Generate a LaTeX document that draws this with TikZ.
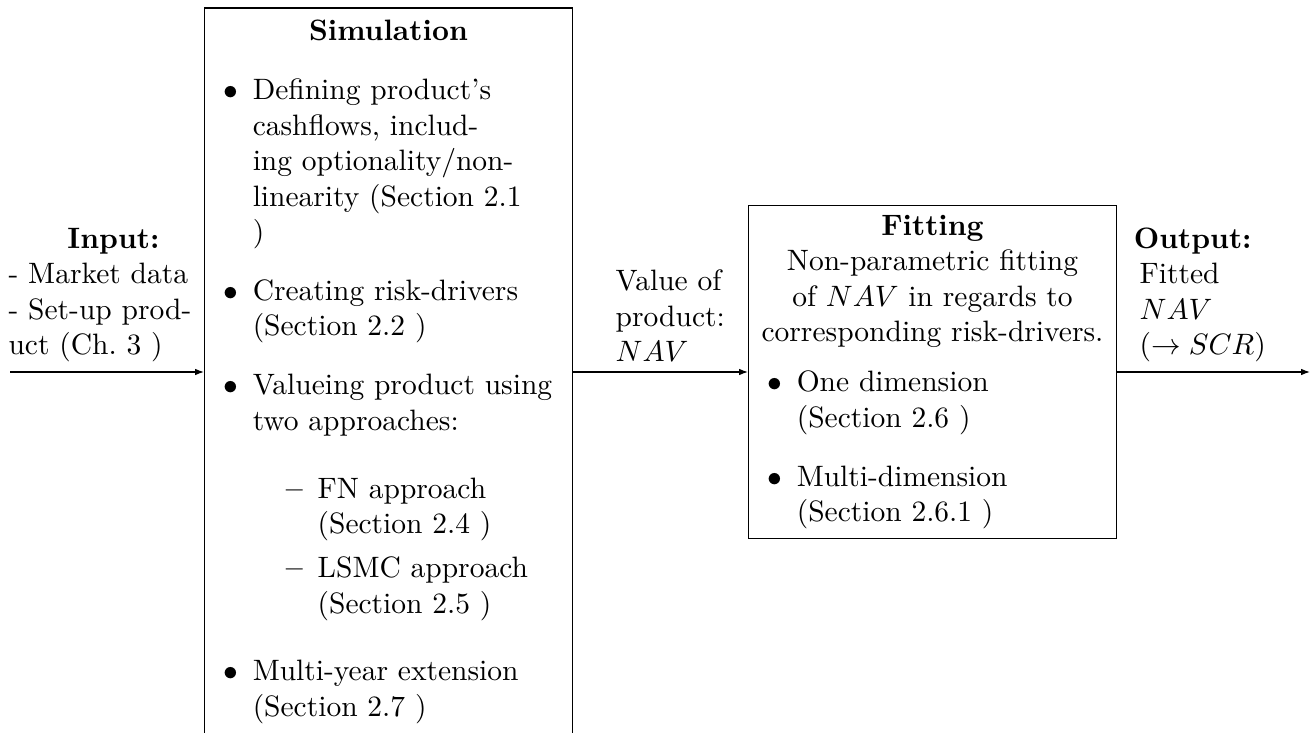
\documentclass[tikz,border=0pt]{standalone}
\usepackage{enumitem}
\usetikzlibrary{arrows.meta}

% list geometry used inside the two process boxes
\setlist[itemize,1]{label=$\bullet$,leftmargin=13pt,labelwidth=8pt,labelsep=5pt,labelindent=0pt,itemindent=0pt,
  topsep=8pt,partopsep=0pt,parsep=4pt,itemsep=4pt}
\setlist[itemize,2]{label=\textbf{\textendash},leftmargin=22pt,labelwidth=17pt,labelsep=5pt,labelindent=0pt,itemindent=0pt,
  topsep=7pt,partopsep=0pt,parsep=2pt,itemsep=1pt}

\tikzset{
  stage/.style={draw, line width=0.4pt, inner sep=3.33pt, anchor=west},
  sidelabel/.style={inner sep=0pt, anchor=south west},
  flow/.style={-{Latex[length=3pt,width=2.2pt]}, line width=0.4pt},
}

\begin{document}
\begin{tikzpicture}[x=1pt,y=1pt]
\useasboundingbox (0,0) rectangle (445.76,-248.47);

% ends of the main flow line
\coordinate (start) at (3.39,-126.1);
\coordinate (finish) at (444.07,-126.1);

% simulation stage
\node[stage, minimum height=246.8pt] (sim) at (69.15,-126.1) {\begin{minipage}{118pt}\raggedright
{\centering\textbf{Simulation}\par}
\begin{itemize}
\item Defining product's\newline cashflows, includ-\newline ing optionality/non-\newline linearity (Section 2.1\newline )
\item Creating risk-drivers\newline (Section 2.2 )
\item Valueing product using\newline two approaches:
  \begin{itemize}
  \item FN approach\newline (Section 2.4 )
  \item LSMC approach\newline (Section 2.5 )
  \end{itemize}
\item Multi-year extension\newline (Section 2.7 )
\end{itemize}
\end{minipage}};

% fitting stage
\node[stage] (fit) at (253.56,-126.1) {\begin{minipage}{118pt}
{\centering\textbf{Fitting}\\ Non-parametric fitting\\ of $NAV$ in regards to\\ corresponding risk-drivers.\par}
\raggedright
\begin{itemize}[topsep=5pt]
\item One dimension\newline (Section 2.6 )
\item Multi-dimension\newline (Section 2.6.1 )
\end{itemize}
\end{minipage}};

% labels sitting on the flow line
\node[sidelabel] (inlbl) at (2.71,-122.84) {\begin{minipage}{71.13pt}
\makebox[\linewidth]{\textbf{Input:}}\par\raggedright
- Market data\\ - Set-up prod-\\ uct (Ch.~3 )\end{minipage}};

\node[sidelabel] (vallbl) at (208.5,-122.84) {\begin{minipage}{38pt}\raggedright
Value of\\ product:\\ $NAV$\end{minipage}};

\node[sidelabel] (outlbl) at (386.1,-122.84) {\begin{minipage}{36pt}
\makebox[\linewidth]{\textbf{Output:}}\par\raggedright
Fitted\\ $NAV$\\ \mbox{$(\rightarrow SCR)$}\end{minipage}};

% connectors
\draw[flow] (start) -- (sim.west);
\draw[flow] (sim.east) -- (fit.west);
\draw[flow] (fit.east) -- (finish);
\end{tikzpicture}
\end{document}
